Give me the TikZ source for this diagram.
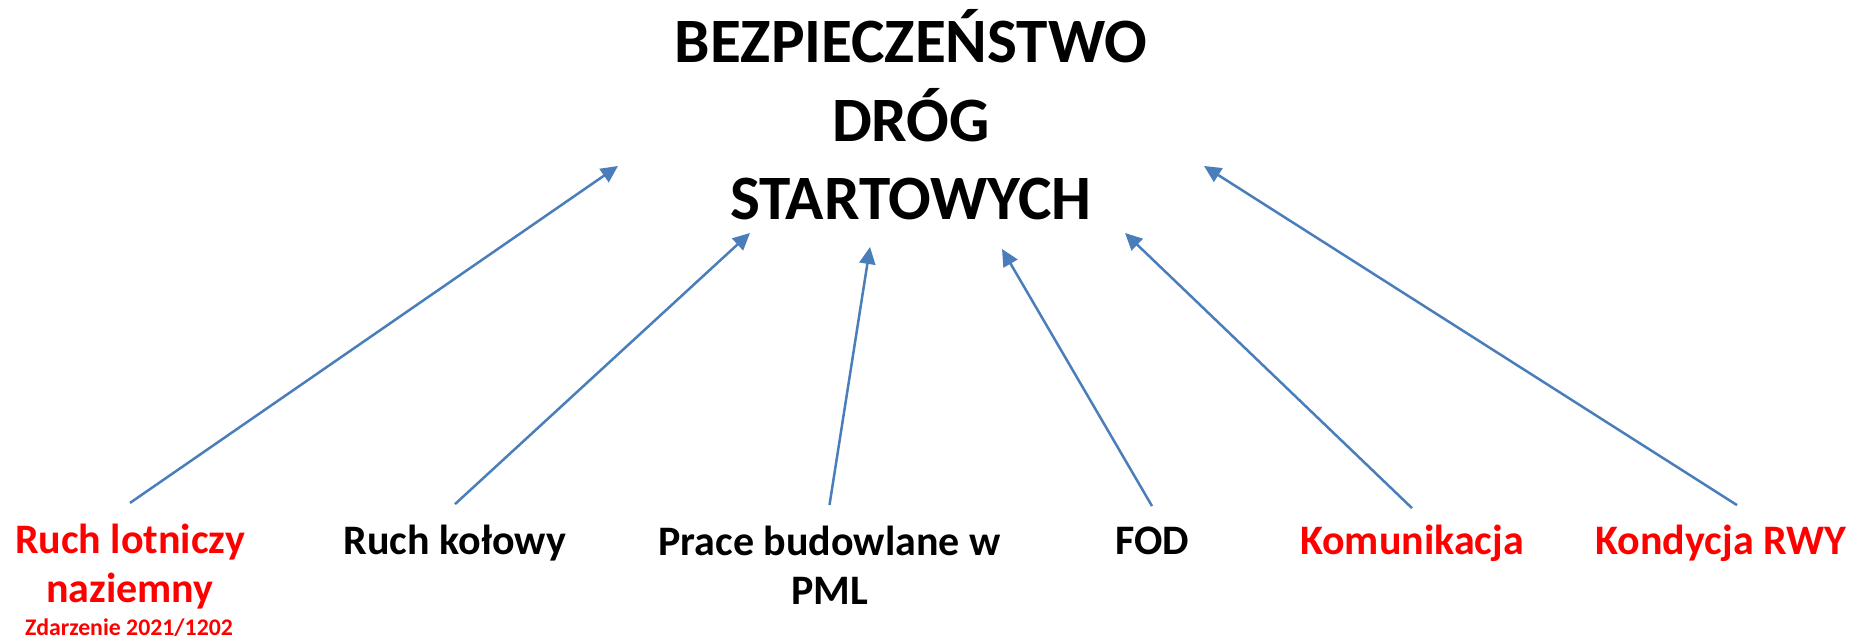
\documentclass[tikz,border=0pt]{standalone}
\usepackage{fontspec}
\setmainfont{Carlito}
\usetikzlibrary{arrows.meta}
\definecolor{lbl_red}{RGB}{255, 0, 0}
\definecolor{link_blue}{RGB}{74, 126, 187}
\tikzstyle{ttl}=[font=\fontsize{31.6}{39.25}\selectfont\bfseries,align=center,
  inner sep=0pt,anchor=base]
\tikzstyle{lbl}=[font=\fontsize{21}{24.6}\selectfont\bfseries,align=center,
  inner sep=0pt,anchor=base]
\tikzstyle{rlbl}=[lbl,text=lbl_red]
\tikzstyle{note}=[font=\fontsize{11.9}{14}\selectfont\bfseries,text=lbl_red,
  inner sep=0pt,anchor=base]
\tikzstyle{link}=[draw=link_blue,line width=1.25pt,
  -{Triangle[length=8.5pt,width=8pt]}]

\begin{document}
\begin{tikzpicture}[x=50pt,y=50pt]
		\path [use as bounding box] (0, 0) rectangle (18.54, 6.41);
		\node [style=ttl] (t) at (9.11, 4.21) {BEZPIECZEŃSTWO\\DRÓG\\STARTOWYCH};
		\node [style=rlbl] (0) at (1.30, 0.38) {Ruch lotniczy\\naziemny};
		\node [style=lbl] (1) at (4.55, 0.86) {Ruch kołowy};
		\node [style=lbl] (2) at (8.295, 0.36) {Prace budowlane w\\PML};
		\node [style=lbl] (3) at (11.52, 0.86) {FOD};
		\node [style=rlbl] (4) at (14.12, 0.86) {Komunikacja};
		\node [style=rlbl] (5) at (17.21, 0.86) {Kondycja RWY};
		\node [style=note] (6) at (1.29, 0.05) {Zdarzenie 2021/1202};
		\coordinate (h1) at (6.18, 4.75);
		\coordinate (h2) at (7.50, 4.08);
		\coordinate (h3) at (8.70, 3.94);
		\coordinate (h4) at (10.02, 3.92);
		\coordinate (h5) at (11.25, 4.08);
		\coordinate (h6) at (12.04, 4.75);
		\draw [style=link] ([yshift=10.5pt]0.north) to (h1);
		\draw [style=link] ([yshift=10.5pt]1.north) to (h2);
		\draw [style=link] ([yshift=10.5pt]2.north) to (h3);
		\draw [style=link] ([yshift=10.5pt]3.north) to (h4);
		\draw [style=link] ([yshift=8.5pt]4.north) to (h5);
		\draw [style=link] ([xshift=8pt,yshift=10pt]5.north) to (h6);
\end{tikzpicture}
\end{document}
